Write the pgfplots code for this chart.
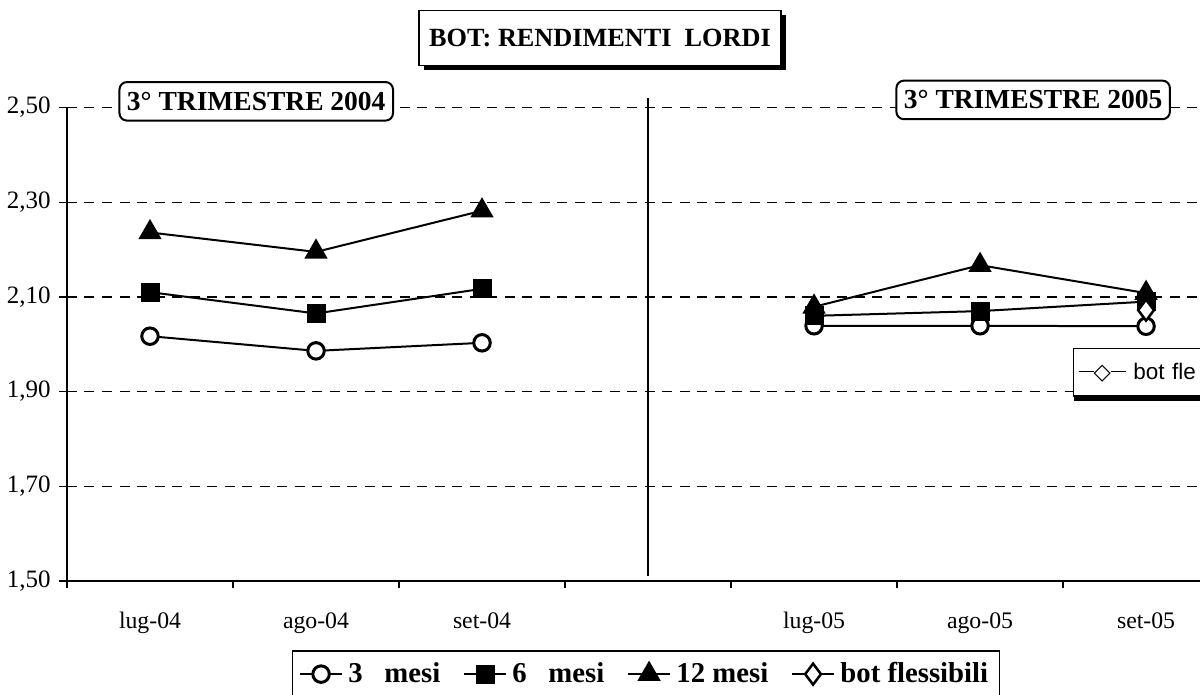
\documentclass[border=0pt]{standalone}
\usepackage{fontspec}
\setmainfont{Liberation Serif}
\newfontfamily\sansfont{Liberation Sans}
\newfontfamily\dejavu{DejaVu Sans}
\usepackage{pgfplots}
\pgfplotsset{compat=1.18}
\usetikzlibrary{shadows}

\begin{document}
\begin{tikzpicture}
\useasboundingbox (-26.8pt,-45.6pt) rectangle (453.2pt,232.4pt);
\begin{axis}[
    scale only axis,
    width=453.2pt, height=189.4pt,
    xmin=-0.5, xmax=6.325,
    ymin=1.5, ymax=2.5,
    clip=false,
    axis x line=bottom, axis y line=left,
    axis line style={-, line width=0.8pt},
    xtick={0,...,6},
    xticklabels={lug-04,ago-04,set-04,,lug-05,ago-05,set-05},
    every major x tick/.append style={draw=none},
    minor xtick={-0.5,0.5,1.5,2.5,3.5,4.5,5.5},
    minor tick length=3pt,
    major tick length=3pt,
    tick align=outside,
    tick style={black, line width=0.5pt},
    xticklabel style={font=\fontsize{9.5}{11}\selectfont, yshift=-6pt},
    ytick={1.5,1.7,1.9,2.1,2.3,2.5},
    yticklabel style={font=\fontsize{10}{12}\selectfont,
        /pgf/number format/fixed, /pgf/number format/fixed zerofill,
        /pgf/number format/precision=2, /pgf/number format/use comma,
        /pgf/number format/assume math mode=true},
    ymajorgrids,
    grid style={black, line width=0.5pt, dash pattern=on 4pt off 3pt},
    unbounded coords=jump,
    legend columns=4,
    legend style={at={(0.511,-0.146)}, anchor=north, draw=black, line width=0.6pt,
        font=\bfseries\fontsize{11.5}{13}\selectfont, inner sep=2.5pt,
        /tikz/every even column/.append style={column sep=7pt}},
]
\addplot[black, line width=0.8pt, mark=*, mark size=3.3pt,
    mark options={fill=white, line width=1.2pt}]
    coordinates {(0,2.017) (1,1.986) (2,2.003) (3,nan) (4,2.039) (5,2.039) (6,2.038)};
\addlegendentry{3~~~mesi}
\addplot[black, line width=0.8pt, mark=square*, mark size=3.4pt,
    mark options={fill=black}]
    coordinates {(0,2.110) (1,2.065) (2,2.117) (3,nan) (4,2.060) (5,2.070) (6,2.090)};
\addlegendentry{6~~~mesi}
\addplot[black, line width=0.8pt, mark=triangle*, mark size=4.6pt,
    mark options={fill=black}]
    coordinates {(0,2.236) (1,2.195) (2,2.282) (3,nan) (4,2.079) (5,2.167) (6,2.108)};
\addlegendentry{12 mesi}
\addplot[black, line width=0.8pt, mark=diamond*, mark size=4.2pt,
    mark options={fill=white, line width=1pt}]
    coordinates {(6,2.072)};
\addlegendentry{bot flessibili}

\draw[line width=0.8pt] (axis cs:3,1.51) -- (axis cs:3,2.519);
\node[draw=black, rounded corners=3pt, fill=white, line width=0.8pt,
    font=\bfseries\fontsize{11}{13}\selectfont, inner xsep=3pt, inner ysep=4pt]
    at (axis cs:0.64,2.513) {3° TRIMESTRE 2004};
\node[draw=black, rounded corners=3pt, fill=white, line width=0.8pt,
    font=\bfseries\fontsize{11}{13}\selectfont, inner xsep=3pt, inner ysep=4pt]
    at (axis cs:5.32,2.516) {3° TRIMESTRE 2005};
\end{axis}

\node[draw=black, line width=0.6pt, fill=white,
    drop shadow={shadow xshift=2pt, shadow yshift=-2pt, fill=black, opacity=1},
    minimum width=138pt, minimum height=22pt, inner xsep=4pt,
    font=\bfseries\fontsize{10.5}{12}\selectfont]
    at (213.2pt,217.2pt) {BOT: RENDIMENTI\ \ LORDI};

\node[anchor=north west, draw=black, line width=0.5pt, fill=white,
    drop shadow={shadow xshift=0pt, shadow yshift=-2pt, fill=black, opacity=1},
    minimum height=19pt, text width=58pt, inner xsep=2pt,
    font=\sansfont\fontsize{9}{11}\selectfont]
    at (402.4pt,93.2pt)
    {\rule[0.3em]{6pt}{0.6pt}{\dejavu\char"25C7}\rule[0.3em]{6pt}{0.6pt}\ bot fle};
\end{tikzpicture}
\end{document}
